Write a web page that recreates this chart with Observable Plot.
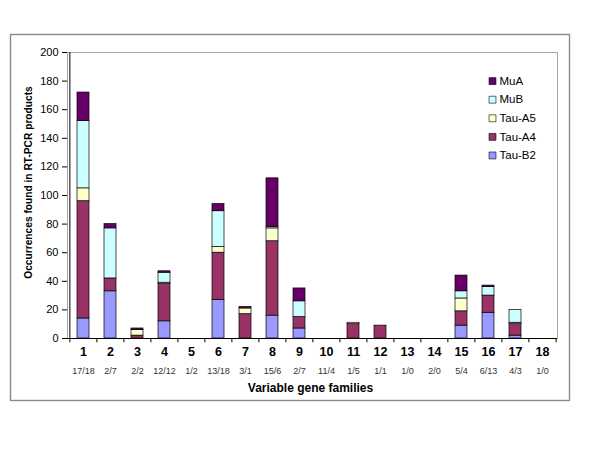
<!DOCTYPE html>
<html>
<head>
<meta charset="utf-8">
<script src="https://cdn.jsdelivr.net/npm/d3@7"></script>
<script src="https://cdn.jsdelivr.net/npm/@observablehq/plot@0.6"></script>
<style>
  html, body { margin: 0; padding: 0; background: #fff; }
</style>
</head>
<body>
<div id="chart"></div>
<script>
const categories = ["1","2","3","4","5","6","7","8","9","10","11","12","13","14","15","16","17","18"];
const fractions  = ["17/18","2/7","2/2","12/12","1/2","13/18","3/1","15/6","2/7","11/4","1/5","1/1","1/0","2/0","5/4","6/13","4/3","1/0"];
const seriesNames = ["Tau-B2","Tau-A4","Tau-A5","MuB","MuA"];   // bottom to top
const legendNames = ["MuA","MuB","Tau-A5","Tau-A4","Tau-B2"];   // legend order
const seriesColors = ["#660066","#CCFFFF","#FFFFCC","#993366","#9999FF"]; // same order as legendNames

const tauB2 = [14,33,0,12,0,27,0,16,7,0,0,0,0,0,9,18,2,0];
const tauA4 = [82,9,2,26,0,33,17,52,8,0,10,9,0,0,10,12,8,0];
const tauA5 = [9,0,4,1,0,4,4,9,0,0,1,0,0,0,9,0,1,0];
const muB   = [47,35,0,7,0,25,0,1,11,0,0,0,0,0,5,6,9,0];
const muA   = [20,3,1,1,0,5,1,34,9,0,0,0,0,0,11,1,0,0];
const yTicks = [0,20,40,60,80,100,120,140,160,180,200];

const seriesValues = [tauB2, tauA4, tauA5, muB, muA];
const table = [];
seriesNames.forEach((s, si) => {
  categories.forEach((c, ci) => {
    const v = seriesValues[si][ci];
    if (v > 0) table.push({family: c, series: s, value: v});
  });
});

const font = "'Liberation Sans', Arial, sans-serif";
const halfStep = 490 / 18 / 2;

const chart = Plot.plot({
  width: 600,
  height: 449,
  marginLeft: 67,
  marginRight: 43,
  marginTop: 52,
  marginBottom: 111,
  style: {fontFamily: font, background: "#fff", color: "#000"},
  x: {domain: categories, paddingInner: 0.57, paddingOuter: 0.285, axis: null},
  y: {domain: [0, 200], axis: null},
  color: {domain: legendNames, range: seriesColors},
  marks: [
    // outer chart border
    Plot.frame({stroke: "#8a8a8a", strokeWidth: 1.4, insetLeft: -57, insetTop: -18, insetRight: -12, insetBottom: -62}),
    // plot area border (gray top/right)
    Plot.frame({stroke: "#a8a8a8", strokeWidth: 1}),
    Plot.barY(table, {
      x: "family", y: "value", fill: "series",
      order: seriesNames,
      stroke: "#000", strokeWidth: 0.7
    }),
    // axes lines
    Plot.ruleY([0], {stroke: "#000", strokeWidth: 1}),
    Plot.ruleX([categories[0]], {y1: 0, y2: 200, dx: -halfStep, stroke: "#000", strokeWidth: 1}),
    // x tick marks at category boundaries
    Plot.ruleX(categories, {y1: 0, y2: -3, dx: -halfStep, stroke: "#000"}),
    Plot.ruleX([categories[categories.length - 1]], {y1: 0, y2: -3, dx: halfStep, stroke: "#000"}),
    Plot.axisY({ticks: yTicks, tickSize: 5, tickPadding: 4, fontSize: 11, label: null, tickFormat: d => String(d)}),
    // category labels
    Plot.text(categories, {x: d => d, frameAnchor: "bottom", dy: 17.7, fontSize: 12.5, fontWeight: "bold", fill: "#000"}),
    Plot.text(categories, {x: d => d, text: (d, i) => fractions[i], frameAnchor: "bottom", dy: 35.3, fontSize: 9, fill: "#333"}),
    // axis titles
    Plot.text(["Variable gene families"], {frameAnchor: "bottom", dy: 53.7, dx: -2, fontSize: 12, fontWeight: "bold", fill: "#000"}),
    Plot.text(["Occurrences found in RT-PCR products"], {frameAnchor: "left", textAnchor: "middle", dx: -39, dy: -13, rotate: -90, fontSize: 10.2, fontWeight: "bold", fill: "#000"}),
    // legend
    Plot.dot(legendNames, {frameAnchor: "left", dx: 425, y: (d, i) => 180 - 13 * i, symbol: "square", r: 3.9, fill: d => d, stroke: "#000", strokeWidth: 0.6}),
    Plot.text(legendNames, {frameAnchor: "left", dx: 432, y: (d, i) => 180 - 13 * i, text: d => d, textAnchor: "start", fontSize: 11.5, fill: "#000"})
  ]
});
document.getElementById("chart").appendChild(chart);
</script>
</body>
</html>
